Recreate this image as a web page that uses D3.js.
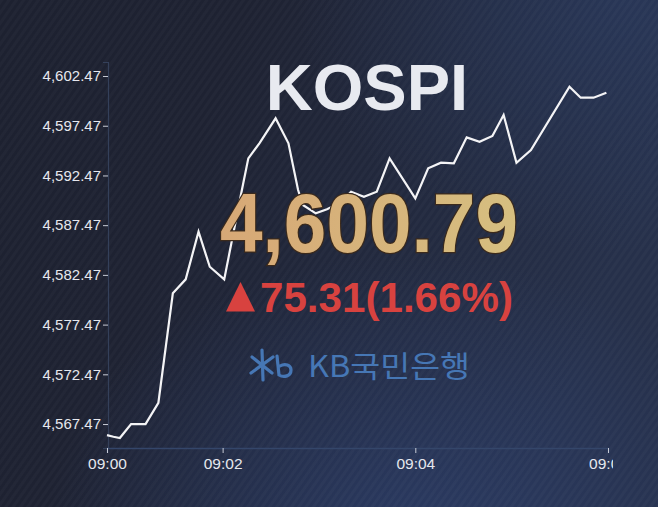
<!DOCTYPE html>
<html>
<head>
<meta charset="utf-8">
<script src="https://cdn.jsdelivr.net/npm/d3@7/dist/d3.min.js"></script>
<style>
  html, body { margin: 0; padding: 0; background: #1c2030; }
  svg { display: block; }
</style>
</head>
<body>
<svg id="chart" width="658" height="507"></svg>
<script>
// ---- data ----
const times = ["09:00:48","09:00:52","09:00:56","09:01:03","09:01:12","09:01:20","09:01:29","09:01:37",
  "09:01:45","09:01:52","09:02:01","09:02:12","09:02:16","09:02:23","09:02:33","09:02:41","09:02:47",
  "09:02:50","09:02:58","09:03:05","09:03:13","09:03:20","09:03:28","09:03:36","09:03:44","09:04:00",
  "09:04:08","09:04:16","09:04:24","09:04:32","09:04:40","09:04:48","09:04:55","09:05:03","09:05:12",
  "09:05:36","09:05:43","09:05:51","09:05:59"];
const values = [4566.36,4566.19,4566.06,4567.47,4567.47,4569.61,4580.62,4582.02,
  4586.81,4583.29,4582.02,4591.00,4594.19,4595.73,4598.22,4595.70,4591.00,
  4589.50,4588.66,4589.06,4589.70,4590.83,4590.33,4590.83,4594.19,4590.17,
  4593.19,4593.75,4593.69,4596.30,4595.86,4596.44,4598.55,4593.75,4595.03,
  4601.39,4600.29,4600.29,4600.79];
const yTicks = [4567.47,4572.47,4577.47,4582.47,4587.47,4592.47,4597.47,4602.47];
const xTickLabels = ["09:00:48","09:02:00","09:04:00","09:06:00"];
const titleText = "KOSPI";
const indexValue = "4,600.79";
const changeText = "75.31(1.66%)";
const bankText = "KB국민은행";

// ---- setup ----
const W = 658, H = 507;
const svg = d3.select("#chart");
const parse = d3.timeParse("%H:%M:%S");
const fmt = d3.timeFormat("%H:%M");
const data = times.map((t, i) => ({ t: parse(t), v: values[i] }));

const defs = svg.append("defs");
const bg = defs.append("linearGradient").attr("id", "bg").attr("x1", 0).attr("y1", 0).attr("x2", 1).attr("y2", 0.3);
bg.append("stop").attr("offset", "0%").attr("stop-color", "#1d2130");
bg.append("stop").attr("offset", "35%").attr("stop-color", "#1e2232");
bg.append("stop").attr("offset", "100%").attr("stop-color", "#26304a");
const glow = defs.append("radialGradient").attr("id", "glow").attr("cx", 0.62).attr("cy", 1.05).attr("r", 0.55);
glow.append("stop").attr("offset", "0%").attr("stop-color", "#2f4478").attr("stop-opacity", 0.55);
glow.append("stop").attr("offset", "100%").attr("stop-color", "#2f4478").attr("stop-opacity", 0);
const glow2 = defs.append("radialGradient").attr("id", "glow2").attr("cx", 0.95).attr("cy", 0.0).attr("r", 0.5);
glow2.append("stop").attr("offset", "0%").attr("stop-color", "#2b3c62").attr("stop-opacity", 0.6);
glow2.append("stop").attr("offset", "100%").attr("stop-color", "#2b3c62").attr("stop-opacity", 0);
const stripes = defs.append("pattern").attr("id", "stripes").attr("patternUnits", "userSpaceOnUse")
  .attr("width", 6).attr("height", 6).attr("patternTransform", "rotate(35)");
stripes.append("rect").attr("width", 3).attr("height", 6).attr("fill", "#ffffff").attr("opacity", 0.025);
const gold = defs.append("linearGradient").attr("id", "gold").attr("x1", 0).attr("y1", 0).attr("x2", 1).attr("y2", 0);
gold.append("stop").attr("offset", "0%").attr("stop-color", "#d7a876");
gold.append("stop").attr("offset", "100%").attr("stop-color", "#d6bf80");
defs.append("clipPath").attr("id", "clip").append("rect").attr("x", 0).attr("y", 0).attr("width", 613).attr("height", H);

svg.append("rect").attr("width", W).attr("height", H).attr("fill", "url(#bg)");
svg.append("rect").attr("width", W).attr("height", H).attr("fill", "url(#glow)");
svg.append("rect").attr("width", W).attr("height", H).attr("fill", "url(#glow2)");
svg.append("rect").attr("width", W).attr("height", H).attr("fill", "url(#stripes)");

// ---- scales ----
const x = d3.scaleTime().domain([parse("09:00:48"), parse("09:06:00")]).range([107, 608]);
const y = d3.scaleLinear().domain([4565.06, 4603.88]).range([448, 62]);

const g = svg.append("g").attr("clip-path", "url(#clip)");

// y axis
const yAxis = d3.axisLeft(y).tickValues(yTicks).tickSize(5).tickPadding(2)
  .tickFormat(d3.format(",.2f"));
const ya = g.append("g").attr("transform", "translate(108,0)").call(yAxis);
ya.select(".domain").attr("stroke", "#34405a").attr("stroke-width", 1.2);
ya.selectAll(".tick line").attr("stroke", "#c8ccd6");
ya.selectAll(".tick text").attr("fill", "#e6e8ee").attr("font-family", "Liberation Sans, Arial, sans-serif")
  .attr("font-size", 15);

// x axis
const xAxis = d3.axisBottom(x).tickValues(xTickLabels.map(parse)).tickFormat(fmt).tickSize(5).tickPadding(5);
const xa = g.append("g").attr("transform", "translate(0,448)").call(xAxis);
xa.select(".domain").attr("stroke", "#34466a").attr("stroke-width", 1.5);
xa.selectAll(".tick line").attr("stroke", "#c8ccd6");
xa.selectAll(".tick text").attr("fill", "#e6e8ee").attr("font-family", "Liberation Sans, Arial, sans-serif")
  .attr("font-size", 15.5);

// line
const line = d3.line().x(d => x(d.t)).y(d => y(d.v));
g.append("path").datum(data).attr("d", line).attr("fill", "none")
  .attr("stroke", "#f4f4f6").attr("stroke-width", 2.2).attr("stroke-linejoin", "miter");

// ---- overlay texts ----
svg.append("text").attr("x", 367).attr("y", 110).attr("text-anchor", "middle")
  .attr("font-family", "Liberation Sans, Arial, sans-serif").attr("font-weight", "bold")
  .attr("font-size", 65).attr("fill", "#e8eaf0").text(titleText);

svg.append("text").attr("x", 220).attr("y", 251.5)
  .attr("font-family", "Liberation Sans, Arial, sans-serif").attr("font-weight", "bold")
  .attr("font-size", 83).attr("textLength", 298).attr("lengthAdjust", "spacingAndGlyphs")
  .attr("fill", "url(#gold)").attr("stroke", "#3b2a1c").attr("stroke-width", 2.5)
  .attr("paint-order", "stroke").text(indexValue);

// red up-triangle
svg.append("path").attr("d", "M226,311.5 L240.5,282 L255,311.5 Z").attr("fill", "#d8423f");
svg.append("text").attr("x", 260).attr("y", 311.5)
  .attr("font-family", "Liberation Sans, Arial, sans-serif").attr("font-weight", "bold")
  .attr("font-size", 42).attr("textLength", 253).attr("lengthAdjust", "spacingAndGlyphs")
  .attr("fill", "#d8423f").text(changeText);

// KB logo symbol
const logo = svg.append("g").attr("stroke", "#4677b5").attr("stroke-width", 3.2).attr("fill", "none")
  .attr("stroke-linecap", "round");
logo.append("path").attr("d", "M262,350 L263,380");
logo.append("path").attr("d", "M252,357 L272,373");
logo.append("path").attr("d", "M251,373 L273,357");
logo.append("path").attr("d", "M277,356 L279,375 C284,378 291,376 291,370 C291,365 285,363 280,366");

svg.append("text").attr("x", 308).attr("y", 377)
  .attr("font-family", "Noto Sans CJK KR, Noto Sans, sans-serif")
  .attr("font-size", 30).attr("textLength", 162).attr("lengthAdjust", "spacingAndGlyphs")
  .attr("fill", "#4677b5").text(bankText);
</script>
</body>
</html>
